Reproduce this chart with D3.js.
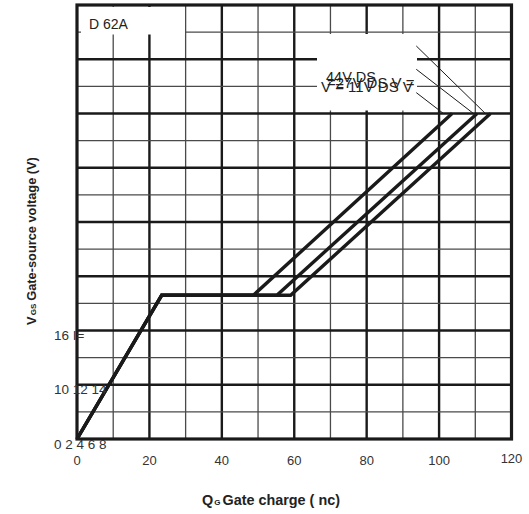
<!DOCTYPE html>
<html><head><meta charset="utf-8">
<script src="https://cdn.jsdelivr.net/npm/d3@7"></script>
<style>body{margin:0;background:#fff}</style>
</head><body>
<svg id="chart" width="529" height="514"></svg>
<script>
// ---- data ----
const seriesNames = ["VDS = 44V", "VDS = 27V", "VDS = 11V"];
const riseQ = [0, 23.4];
const riseV = [0, 5.3];
const plateauV = 5.3;
const plateauEndQ = [59.0, 55.2, 48.7];
const topQ = [114.2, 110.5, 103.6];
const topV = 12;
const xTicks = [0, 20, 40, 60, 80, 100, 120];
const yTickValues = [0, 2, 4];
const yTickLabels = ["0 2 4 6 8", "10 12 14", "16 I="];
const legendLabels = ["44V DS", "=27V DS V =", "V = 11V DS V"];
const leaderStartQ = 93.7;
const leaderStartV = [14.49, 13.63, 12.77];
const leaderEndQ = [112.8, 109.5, 101.2];
const partLabel = "D 62A";

// ---- layout ----
const svg = d3.select("#chart");
const x = d3.scaleLinear().domain([0, 120]).range([77, 511.5]);
const y = d3.scaleLinear().domain([0, 16]).range([439, 5]);
const ink = "#1a1a1a";

// grid
const g = svg.append("g");
const vq = d3.range(10, 120, 10);
const hv = d3.range(1, 16, 1);
g.selectAll("line.v").data(vq).join("line")
  .attr("x1", d => x(d)).attr("x2", d => x(d))
  .attr("y1", y(0)).attr("y2", y(16))
  .attr("stroke", d => d % 20 === 0 ? ink : "#4a4a4a")
  .attr("stroke-width", d => d % 20 === 0 ? 2.4 : 1.3);
g.selectAll("line.h").data(hv).join("line")
  .attr("y1", d => y(d)).attr("y2", d => y(d))
  .attr("x1", x(0)).attr("x2", x(120))
  .attr("stroke", d => d % 2 === 0 ? ink : "#4a4a4a")
  .attr("stroke-width", d => d % 2 === 0 ? 2.4 : 1.3);

// white annotation boxes
svg.append("rect").attr("x", 81).attr("y", 7).attr("width", 104).attr("height", 27.5).attr("fill", "#fff");
svg.append("rect").attr("x", 317).attr("y", 34).attr("width", 100).attr("height", 76.5).attr("fill", "#fff");

// curves
const line = d3.line().x(d => x(d[0])).y(d => y(d[1]));
const series = seriesNames.map((n, i) => [
  [riseQ[0], riseV[0]], [riseQ[1], riseV[1]],
  [plateauEndQ[i], plateauV], [topQ[i], topV]
]);
svg.append("g").selectAll("path").data(series).join("path")
  .attr("d", line).attr("fill", "none").attr("stroke", ink)
  .attr("stroke-width", 3.4).attr("stroke-linejoin", "miter");

// border
svg.append("rect").attr("x", x(0)).attr("y", y(16))
  .attr("width", x(120) - x(0)).attr("height", y(0) - y(16))
  .attr("fill", "none").attr("stroke", ink).attr("stroke-width", 3.2);

// leader lines
svg.append("g").selectAll("line").data(leaderStartV).join("line")
  .attr("x1", x(leaderStartQ)).attr("y1", d => y(d))
  .attr("x2", (d, i) => x(leaderEndQ[i])).attr("y2", y(topV))
  .attr("stroke", ink).attr("stroke-width", 1);

const font = "'Liberation Sans', Arial, sans-serif";
// part label
svg.append("text").attr("x", 89).attr("y", 28.5).text(partLabel)
  .attr("font-family", font).attr("font-size", 14).attr("fill", "#222");

// legend labels
const legPos = [[326, 82, 14.5], [327, 87.5, 15], [321, 92, 15]];
svg.append("g").selectAll("text").data(legendLabels).join("text")
  .attr("x", (d, i) => legPos[i][0]).attr("y", (d, i) => legPos[i][1])
  .attr("font-size", (d, i) => legPos[i][2])
  .attr("font-family", font).attr("fill", "#222").text(d => d);

// x tick labels
svg.append("g").selectAll("text").data(xTicks).join("text")
  .attr("x", d => x(d)).attr("y", d => d === 120 ? 463 : 465)
  .attr("text-anchor", "middle").attr("font-family", font)
  .attr("font-size", 13).attr("fill", "#333").text(d => d);

// y tick labels
svg.append("g").selectAll("text").data(yTickValues).join("text")
  .attr("x", 54).attr("y", d => y(d) + 9.5)
  .attr("font-family", font).attr("font-size", 13.5).attr("fill", "#333")
  .text((d, i) => yTickLabels[i]);

// axis titles
const xt = svg.append("text").attr("x", 271).attr("y", 505)
  .attr("text-anchor", "middle").attr("font-family", font)
  .attr("font-weight", "bold").attr("font-size", 14.4).attr("fill", "#222");
xt.append("tspan").text("Q");
xt.append("tspan").attr("font-size", 8).attr("dx", 1).text("G");
xt.append("tspan").attr("dx", 2).text("Gate charge ( nc)");

const yt = svg.append("text").attr("transform", "translate(36,241) rotate(-90)")
  .attr("text-anchor", "middle").attr("font-family", font)
  .attr("font-weight", "bold").attr("font-size", 12.8).attr("fill", "#222");
yt.append("tspan").text("V");
yt.append("tspan").attr("font-size", 8).attr("dx", 1).text("GS");
yt.append("tspan").attr("dx", 3).text("Gate-source voltage (V)");
</script>
</body></html>
